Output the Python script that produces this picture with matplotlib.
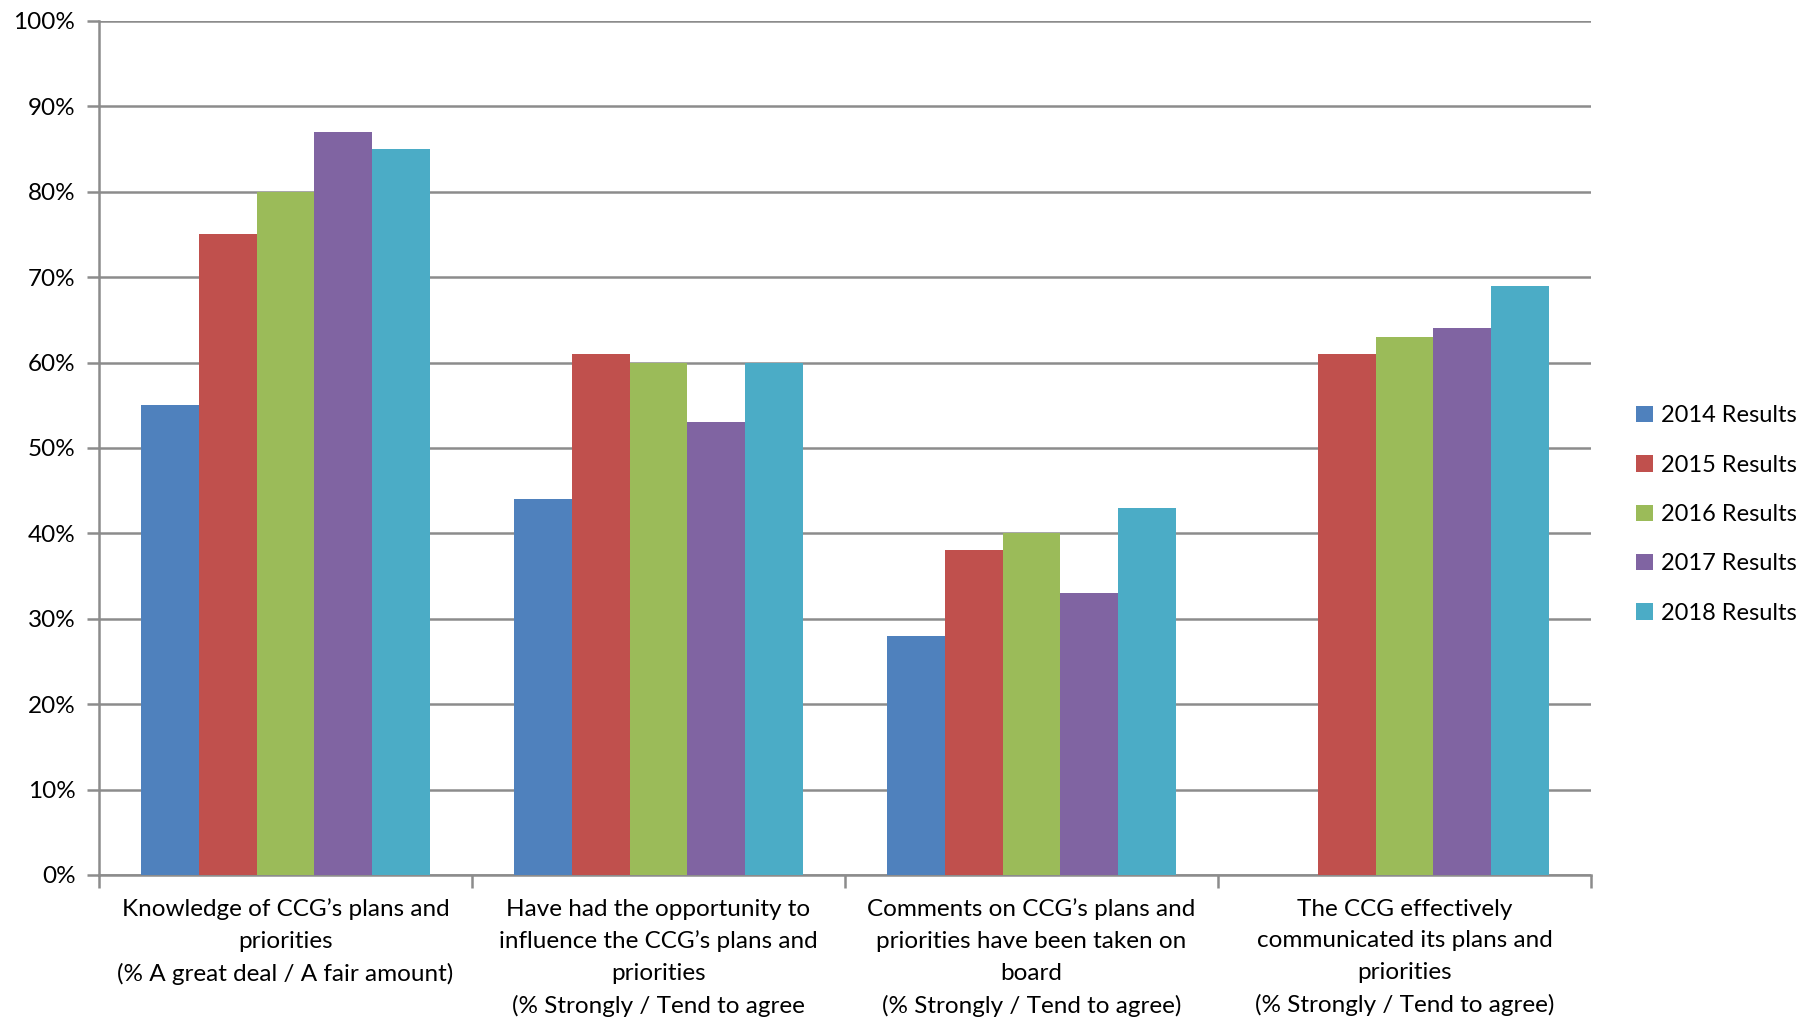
import numpy as np
import matplotlib
matplotlib.use("Agg")
import matplotlib.pyplot as plt
from matplotlib.ticker import MultipleLocator, FuncFormatter

plt.rcParams['font.family'] = ['Lato', 'DejaVu Sans']

# data
categories = [
    "Knowledge of CCG\u2019s plans and\npriorities\n(% A great deal / A fair amount)",
    "Have had the opportunity to\ninfluence the CCG\u2019s plans and\npriorities\n(% Strongly / Tend to agree",
    "Comments on CCG\u2019s plans and\npriorities have been taken on\nboard\n(% Strongly / Tend to agree)",
    "The CCG effectively\ncommunicated its plans and\npriorities\n(% Strongly / Tend to agree)",
]
series_names = ["2014 Results", "2015 Results", "2016 Results", "2017 Results", "2018 Results"]
results_2014 = [55, 44, 28, np.nan]
results_2015 = [75, 61, 38, 61]
results_2016 = [80, 60, 40, 63]
results_2017 = [87, 53, 33, 64]
results_2018 = [85, 60, 43, 69]
colors = ['#4F81BD', '#C0504D', '#9BBB59', '#8064A2', '#4BACC6']

series = [results_2014, results_2015, results_2016, results_2017, results_2018]

fig = plt.figure(figsize=(18.07, 10.23), dpi=100)
ax = fig.add_axes([0.0548, 0.1447, 0.8257, 0.8348])

x = np.arange(len(categories))
bw = 0.1545
for i, (vals, name, c) in enumerate(zip(series, series_names, colors)):
    ax.bar(x + (i - 2) * bw, vals, width=bw, color=c, label=name, zorder=3)

ax.set_xlim(-0.5, len(categories) - 0.5)
ax.set_ylim(0, 100)
ax.yaxis.set_major_locator(MultipleLocator(10))
ax.yaxis.set_major_formatter(FuncFormatter(lambda v, p: f"{v:.0f}%"))
ax.grid(axis='y', color='#8C8C8C', linewidth=1.8, zorder=0)

# category boundaries as x ticks, labels placed at centres
ax.set_xticks(np.arange(-0.5, len(categories)), minor=False)
ax.set_xticklabels([])
ax.set_xticks(x, minor=True)
ax.set_xticklabels(categories, minor=True, fontsize=17.5, linespacing=1.62)
ax.tick_params(axis='x', which='minor', length=0, pad=17)
ax.tick_params(axis='x', which='major', length=9, width=1.8, color='#8C8C8C')
ax.tick_params(axis='y', length=9, width=1.8, color='#8C8C8C', labelsize=17.5, pad=8)

for s in ['top', 'right']:
    ax.spines[s].set_visible(False)
for s in ['left', 'bottom']:
    ax.spines[s].set_color('#8C8C8C')
    ax.spines[s].set_linewidth(1.8)

leg = ax.legend(loc='center left', bbox_to_anchor=(1.016, 0.422), frameon=False,
                fontsize=17, handlelength=0.7, handleheight=0.7, handletextpad=0.35,
                labelspacing=1.2)

fig.savefig("out.png", dpi=100)
